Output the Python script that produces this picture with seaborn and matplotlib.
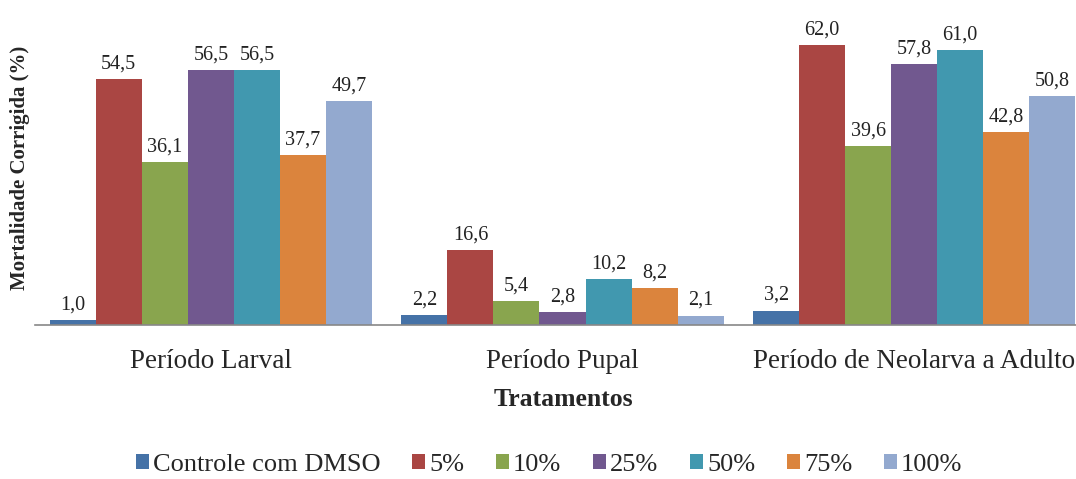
import matplotlib
matplotlib.use("Agg")
import matplotlib.pyplot as plt
import seaborn as sns
import pandas as pd
from matplotlib.patches import Patch

categories = ["Período Larval", "Período Pupal", "Período de Neolarva a Adulto"]
treatments = ["Controle com DMSO", "5%", "10%", "25%", "50%", "75%", "100%"]
values = {
    "Controle com DMSO": [1.0, 2.2, 3.2],
    "5%": [54.5, 16.6, 62.0],
    "10%": [36.1, 5.4, 39.6],
    "25%": [56.5, 2.8, 57.8],
    "50%": [56.5, 10.2, 61.0],
    "75%": [37.7, 8.2, 42.8],
    "100%": [49.7, 2.1, 50.8],
}
colors = ["#4572A7", "#AA4643", "#89A54E", "#71588F", "#4198AF", "#DB843D", "#93A9CF"]

rows = []
for t in treatments:
    for c, v in zip(categories, values[t]):
        rows.append({"Período": c, "Tratamento": t, "Mortalidade": v})
df = pd.DataFrame(rows)

sns.set_style("white")
plt.rcParams["font.family"] = ["Liberation Serif", "DejaVu Serif"]

fig = plt.figure(figsize=(10.76, 4.79), dpi=100)
ax = fig.add_axes([35/1076, (479-325)/479, 1055/1076, 316/479])

sns.barplot(data=df, x="Período", y="Mortalidade", hue="Tratamento",
            order=categories, hue_order=treatments, palette=colors,
            saturation=1, width=0.916, linewidth=0, ax=ax, legend=False)

for cont, t in zip(ax.containers, treatments):
    labs = [f"{v:.1f}".replace(".", ",") for v in values[t]]
    ax.bar_label(cont, labels=labs, padding=4, fontsize=14.5, color="#222222")

ax.set_xlim(-0.5, 2.5)
ax.set_ylim(0, 70)
ax.set_yticks([])
ax.set_xlabel("")
ax.set_ylabel("")
for s in ["top", "right", "left"]:
    ax.spines[s].set_visible(False)
ax.spines["bottom"].set_color("#888888")
ax.spines["bottom"].set_linewidth(1.2)
ax.tick_params(axis="x", length=0, pad=17, labelsize=19.5)

fig.text(563/1076, 1 - 400/479, "Tratamentos", ha="center", va="center",
         fontsize=18.5, fontweight="bold")
fig.text(20/1076, 1 - 168/479, "Mortalidade Corrigida (%)", ha="center", va="center",
         rotation=90, fontsize=15, fontweight="bold")

handles = [Patch(facecolor=c, edgecolor="none") for c in colors]
fig.legend(handles, treatments, loc="center", bbox_to_anchor=(549/1076, 1 - 465/479),
           ncol=7, frameon=False, fontsize=19, handlelength=0.5, handleheight=0.5,
           handletextpad=0.15, columnspacing=1.2, borderpad=0, borderaxespad=0,
           prop={"family": "Liberation Serif", "size": 19})

fig.savefig("out.png", dpi=100)
